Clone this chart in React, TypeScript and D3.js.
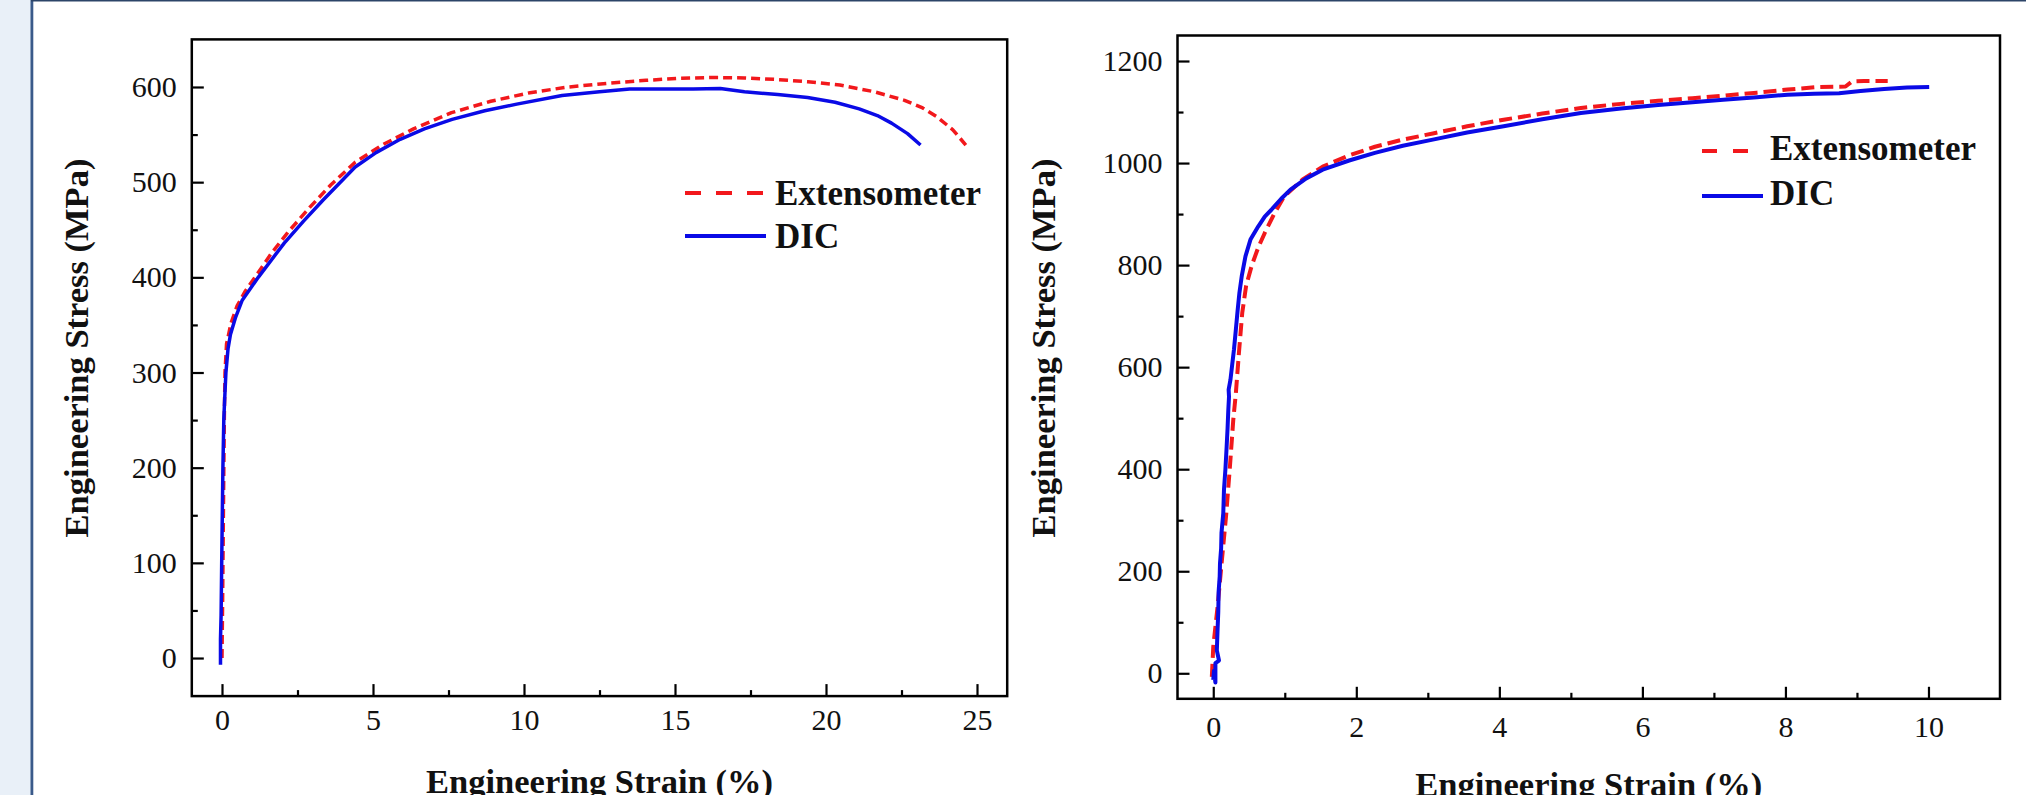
import React, { useEffect, useRef } from 'react'
import * as d3 from 'd3'

// strain (%), stress (MPa)
const leftExtensometer: [number, number][] = [
  [0.0, 0], [0.02, 60], [0.04, 130], [0.06, 200], [0.08, 260], [0.1, 300], [0.15, 330],
  [0.3, 352], [0.5, 370], [0.78, 386], [1.2, 405], [1.63, 425], [2.2, 448], [2.92, 474],
  [3.6, 497], [4.41, 521], [5.3, 539], [6.34, 556], [7.6, 573], [8.9, 585], [10.2, 594],
  [11.47, 600], [12.8, 604], [14.04, 607], [15.1, 609], [16.18, 610], [17.3, 609.5],
  [18.3, 608], [19.4, 605.5], [20.46, 602], [21.6, 595], [22.6, 586], [23.2, 578],
  [23.66, 569], [24.2, 555], [24.63, 539]
]

const leftDIC: [number, number][] = [
  [-0.05, -7], [-0.05, 20], [-0.03, 45], [-0.01, 100], [0.01, 150], [0.03, 200], [0.06, 251],
  [0.1, 280], [0.13, 300], [0.2, 325], [0.28, 340], [0.45, 358], [0.67, 376], [1.2, 400],
  [2.06, 436], [2.7, 459], [3.34, 481], [4.41, 516], [5.1, 531], [5.9, 545], [6.7, 556],
  [7.62, 566], [8.7, 575], [9.76, 582], [11.26, 591], [12.5, 595], [13.5, 598], [14.5, 598],
  [15.6, 598], [16.5, 598.5], [17.3, 595], [18.4, 592], [19.39, 589], [20.3, 584],
  [21.1, 577], [21.7, 570], [22.17, 562], [22.7, 551], [23.13, 539]
]

const rightExtensometer: [number, number][] = [
  [-0.02, -7], [0.0, 52], [0.06, 130], [0.117, 216], [0.18, 310], [0.233, 405], [0.28, 497],
  [0.316, 549], [0.36, 630], [0.405, 706], [0.46, 760], [0.54, 800], [0.63, 835], [0.72, 863],
  [0.85, 900], [0.99, 934], [1.25, 968], [1.53, 993], [1.9, 1015], [2.26, 1032], [2.65, 1046],
  [3.07, 1058], [3.55, 1072], [4.06, 1085], [4.6, 1097], [5.14, 1108], [5.7, 1116],
  [6.22, 1122], [6.7, 1127], [7.13, 1132], [7.6, 1138], [8.03, 1144], [8.45, 1149],
  [8.84, 1150], [8.93, 1160], [9.1, 1161], [9.43, 1161]
]

const rightDIC: [number, number][] = [
  [0.0, -13], [0.01, 5], [0.03, -18], [0.03, 20], [0.08, 25], [0.05, 45], [0.06, 85],
  [0.07, 120], [0.075, 160], [0.09, 190], [0.094, 215], [0.11, 245], [0.115, 275], [0.14, 314],
  [0.15, 360], [0.17, 400], [0.187, 444], [0.2, 480], [0.21, 515], [0.22, 542], [0.215, 556],
  [0.24, 575], [0.265, 605], [0.29, 635], [0.32, 680], [0.34, 710], [0.365, 745], [0.4, 780],
  [0.45, 817], [0.52, 850], [0.63, 876], [0.72, 895], [0.81, 908], [0.95, 930], [1.08, 948],
  [1.3, 970], [1.53, 987], [1.9, 1005], [2.26, 1020], [2.65, 1034], [3.07, 1046],
  [3.55, 1060], [4.06, 1072], [4.6, 1086], [5.14, 1098], [5.7, 1107], [6.22, 1114],
  [6.7, 1119], [7.13, 1124], [7.6, 1129], [8.03, 1134], [8.4, 1136], [8.75, 1137],
  [9.05, 1141], [9.38, 1145], [9.7, 1148], [10.01, 1149]
]

const leftXTicks = [0, 5, 10, 15, 20, 25]
const leftXMinor = [2.5, 7.5, 12.5, 17.5, 22.5]
const leftYTicks = [0, 100, 200, 300, 400, 500, 600]
const leftYMinor = [50, 150, 250, 350, 450, 550]

const rightXTicks = [0, 2, 4, 6, 8, 10]
const rightXMinor = [1, 3, 5, 7, 9]
const rightYTicks = [0, 200, 400, 600, 800, 1000, 1200]
const rightYMinor = [100, 300, 500, 700, 900, 1100]

const seriesNames = ['Extensometer', 'DIC']
const xTitle = 'Engineering Strain (%)'
const yTitle = 'Engineering Stress (MPa)'

const RED = '#f2181c'
const BLUE = '#0a0ae6'
const SERIF = '"Liberation Serif", "Times New Roman", serif'

type PanelCfg = {
  xDomain: [number, number]
  xRange: [number, number]
  yDomain: [number, number]
  yRange: [number, number]
  xTicks: number[]
  xMinor: number[]
  yTicks: number[]
  yMinor: number[]
  ext: [number, number][]
  dic: [number, number][]
  dash: string
  width: number
  xPad: number
  yPad: number
  xTitleY: number
  yTitleX: number
  legend: { x1: number; x2: number; tx: number; y1: number; y2: number; b1: number; b2: number; dash: string }
}

const panels: PanelCfg[] = [
  {
    xDomain: [-1, 26], xRange: [191.8, 1007.2],
    yDomain: [-40, 650], yRange: [696.1, 39.4],
    xTicks: leftXTicks, xMinor: leftXMinor, yTicks: leftYTicks, yMinor: leftYMinor,
    ext: leftExtensometer, dic: leftDIC, dash: '9,5', width: 3.5,
    xPad: 13, yPad: 15, xTitleY: 793, yTitleX: 88,
    legend: { x1: 685, x2: 766, tx: 775, y1: 193, y2: 236, b1: 205, b2: 248, dash: '16,15' }
  },
  {
    xDomain: [-0.5, 11], xRange: [1177.5, 2000],
    yDomain: [-50, 1250], yRange: [698.8, 35.5],
    xTicks: rightXTicks, xMinor: rightXMinor, yTicks: rightYTicks, yMinor: rightYMinor,
    ext: rightExtensometer, dic: rightDIC, dash: '13,6', width: 4,
    xPad: 17, yPad: 15, xTitleY: 796, yTitleX: 1055,
    legend: { x1: 1702, x2: 1763, tx: 1770, y1: 151, y2: 196, b1: 160, b2: 205, dash: '15,16' }
  }
]

function Panel ({ cfg }: { cfg: PanelCfg }) {
  const ref = useRef<SVGGElement>(null)
  const x = d3.scaleLinear().domain(cfg.xDomain).range(cfg.xRange)
  const y = d3.scaleLinear().domain(cfg.yDomain).range(cfg.yRange)

  useEffect(() => {
    const g = d3.select(ref.current)
    g.selectAll('*').remove()
    const bottom = cfg.yRange[0]
    const left = cfg.xRange[0]

    const styleAxis = (sel: any) => {
      sel.select('.domain').remove()
      sel.attr('font-family', SERIF).attr('font-size', 30)
      sel.selectAll('line').attr('stroke', '#000').attr('stroke-width', 2.2)
      sel.selectAll('text').attr('fill', '#111')
    }

    g.append('g').attr('transform', `translate(0,${bottom})`)
      .call(d3.axisBottom(x).tickValues(cfg.xTicks).tickSize(-12).tickPadding(cfg.xPad).tickFormat(d3.format('d')))
      .call(styleAxis)
    g.append('g').attr('transform', `translate(0,${bottom})`)
      .call(d3.axisBottom(x).tickValues(cfg.xMinor).tickSize(-6).tickFormat(() => ''))
      .call(styleAxis)
    g.append('g').attr('transform', `translate(${left},0)`)
      .call(d3.axisLeft(y).tickValues(cfg.yTicks).tickSize(-12).tickPadding(cfg.yPad).tickFormat(d3.format('d')))
      .call(styleAxis)
    g.append('g').attr('transform', `translate(${left},0)`)
      .call(d3.axisLeft(y).tickValues(cfg.yMinor).tickSize(-6).tickFormat(() => ''))
      .call(styleAxis)
  }, [cfg])

  const line = d3.line<[number, number]>().x(d => x(d[0])).y(d => y(d[1]))
  const [x0, x1] = cfg.xRange
  const [yb, yt] = cfg.yRange
  const L = cfg.legend

  return (
    <g>
      <path d={line(cfg.ext) || ''} fill='none' stroke={RED} strokeWidth={cfg.width} strokeDasharray={cfg.dash} strokeLinejoin='round' />
      <path d={line(cfg.dic) || ''} fill='none' stroke={BLUE} strokeWidth={cfg.width} strokeLinejoin='round' />
      <rect x={x0} y={yt} width={x1 - x0} height={yb - yt} fill='none' stroke='#000' strokeWidth={2.5} />
      <g ref={ref} />
      <text x={(x0 + x1) / 2} y={cfg.xTitleY} textAnchor='middle' fontFamily={SERIF} fontWeight='bold' fontSize={34.5} fill='#111'>{xTitle}</text>
      <text transform={`translate(${cfg.yTitleX},348) rotate(-90)`} textAnchor='middle' fontFamily={SERIF} fontWeight='bold' fontSize={34.5} fill='#111'>{yTitle}</text>
      <line x1={L.x1} x2={L.x2} y1={L.y1} y2={L.y1} stroke={RED} strokeWidth={4} strokeDasharray={L.dash} />
      <line x1={L.x1} x2={L.x2} y1={L.y2} y2={L.y2} stroke={BLUE} strokeWidth={4} />
      <text x={L.tx} y={L.b1} fontFamily={SERIF} fontWeight='bold' fontSize={35} fill='#111'>{seriesNames[0]}</text>
      <text x={L.tx} y={L.b2} fontFamily={SERIF} fontWeight='bold' fontSize={35} fill='#111'>{seriesNames[1]}</text>
    </g>
  )
}

export default function App () {
  return (
    <div style={{ position: 'fixed', left: 0, top: 0 }}>
      <svg width={2026} height={795} viewBox='0 0 2026 795' style={{ display: 'block' }}>
        <rect x={0} y={0} width={2026} height={795} fill='#fff' />
        <rect x={0} y={0} width={31} height={795} fill='#e9f0f8' />
        <rect x={30.5} y={0} width={2.8} height={795} fill='#3a5a8a' />
        <rect x={31} y={0} width={1995} height={1.5} fill='#2c4468' />
        {panels.map((p, i) => <Panel key={i} cfg={p} />)}
      </svg>
    </div>
  )
}
